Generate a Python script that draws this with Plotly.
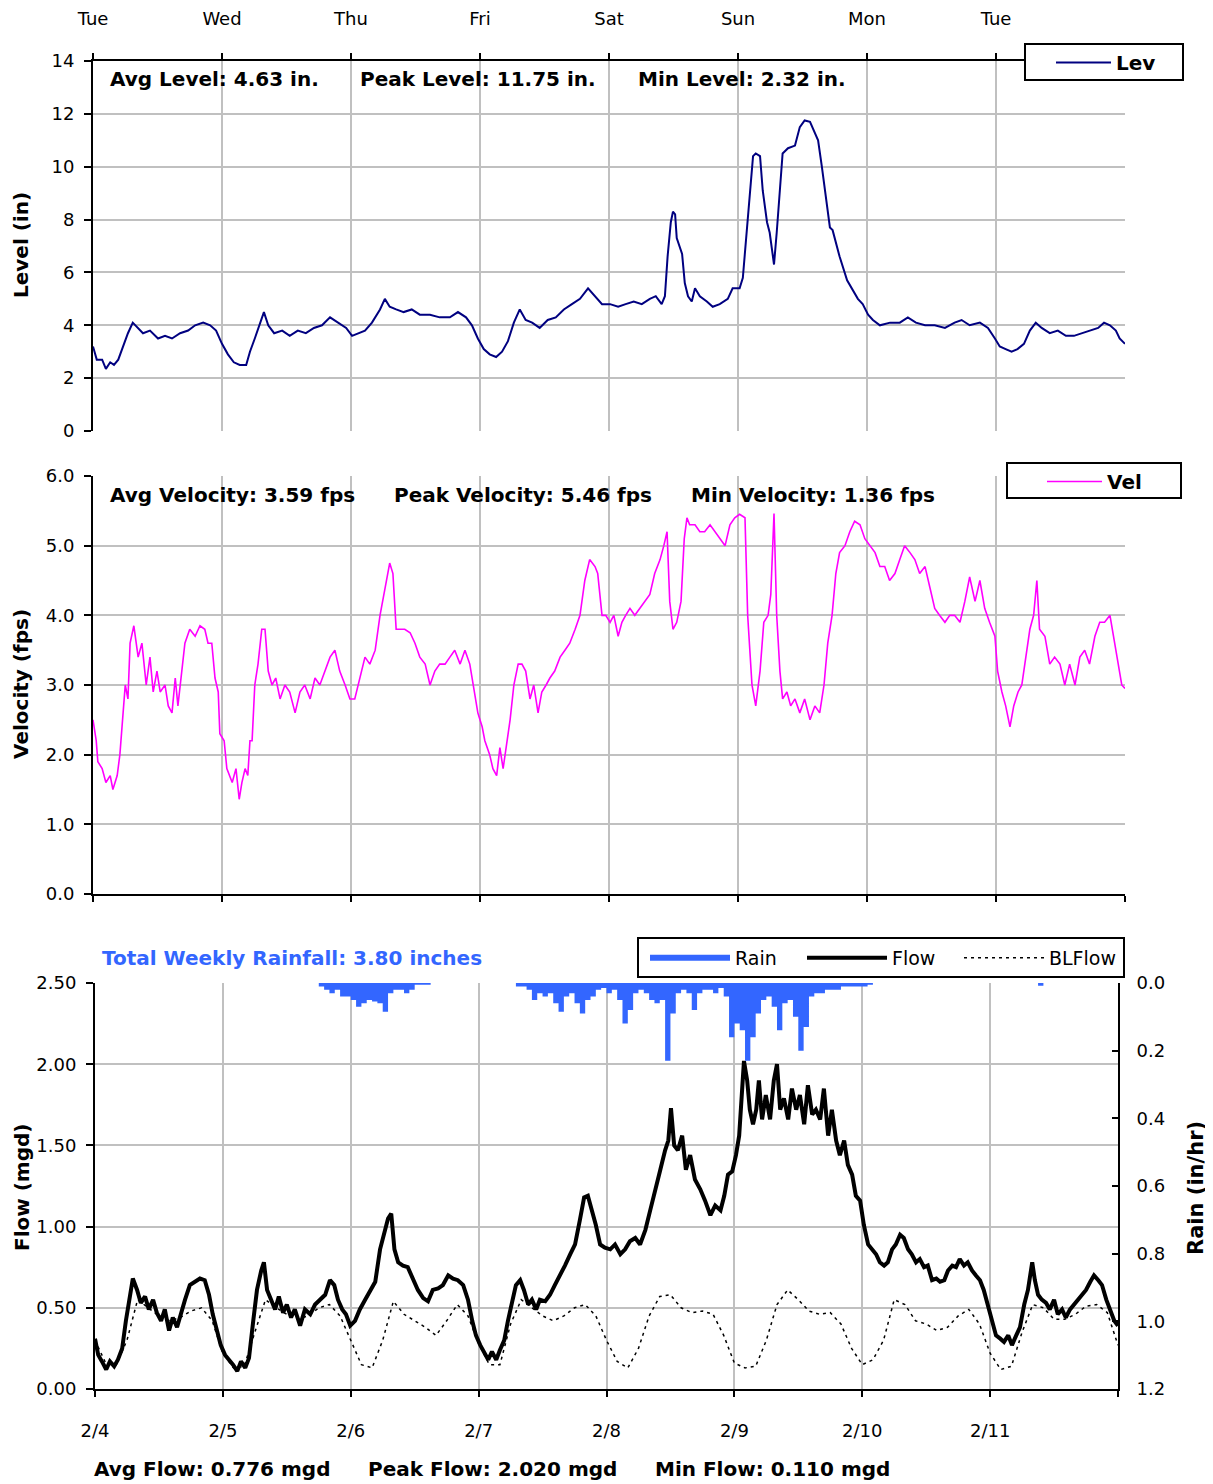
import plotly.graph_objects as go
from datetime import datetime, timedelta

# ---------------- data (hour offset from 2/4 00:00, value) ----------------
START = datetime(2025, 2, 4)

level_pts = [(0,3.2),(0.7,2.7),(1.7,2.7),(2.4,2.35),(3.2,2.6),(3.9,2.5),(4.7,2.7),(5.6,3.2),(6.5,3.7),(7.4,4.1),
    (8.4,3.9),(9.3,3.7),(10.6,3.8),(12.1,3.5),(13.4,3.6),(14.7,3.5),(16.2,3.7),(17.7,3.8),(19.0,4.0),(20.5,4.1),
    (21.8,4.0),(22.9,3.8),(24.0,3.3),(25.1,2.9),(26.2,2.6),(27.3,2.5),(28.5,2.5),(29.2,3.0),(30.1,3.5),(31.1,4.1),
    (31.8,4.5),(32.6,4.0),(33.7,3.7),(35.2,3.8),(36.6,3.6),(38.1,3.8),(39.6,3.7),(41.1,3.9),(42.6,4.0),(44.1,4.3),
    (45.6,4.1),(47.1,3.9),(48.2,3.6),(49.3,3.7),(50.6,3.8),(51.9,4.1),(53.4,4.6),(54.3,5.0),(55.2,4.7),(56.4,4.6),
    (57.8,4.5),(59.3,4.6),(60.8,4.4),(62.7,4.4),(64.5,4.3),(66.4,4.3),(67.9,4.5),(69.4,4.3),(70.5,4.0),(71.6,3.5),
    (72.7,3.1),(73.8,2.9),(75.0,2.8),(76.1,3.0),(77.2,3.4),(78.3,4.1),(79.4,4.6),(80.5,4.2),(81.7,4.1),(83.1,3.9),
    (84.6,4.2),(86.1,4.3),(87.6,4.6),(89.1,4.8),(90.6,5.0),(92.1,5.4),(93.4,5.1),(94.7,4.8),(96.2,4.8),(97.7,4.7),
    (99.1,4.8),(100.6,4.9),(102.1,4.8),(103.6,5.0),(104.7,5.1),(105.8,4.8),(106.4,5.1),(106.9,6.6),(107.5,7.9),(107.9,8.3),
    (108.3,8.2),(108.6,7.3),(109.6,6.7),(110.1,5.6),(110.7,5.1),(111.4,4.9),(112.0,5.4),(112.9,5.1),(114.2,4.9),(115.3,4.7),
    (116.6,4.8),(118.1,5.0),(119.0,5.4),(120.3,5.4),(120.9,5.8),(121.6,7.6),(122.2,9.1),(122.8,10.4),(123.3,10.5),(124.1,10.4),
    (124.6,9.1),(125.4,7.9),(125.9,7.5),(126.7,6.3),(127.2,7.5),(127.8,9.2),(128.3,10.5),(129.3,10.7),(130.6,10.8),(131.5,11.5),
    (132.4,11.75),(133.4,11.7),(134.3,11.3),(134.9,11.0),(135.6,10.0),(136.4,8.8),(137.1,7.7),(137.6,7.6),(138.9,6.6),(140.3,5.7),
    (141.4,5.3),(142.3,5.0),(143.2,4.8),(144.2,4.4),(145.1,4.2),(146.4,4.0),(148.3,4.1),(150.1,4.1),(151.6,4.3),(153.1,4.1),
    (154.8,4.0),(156.6,4.0),(158.5,3.9),(160.3,4.1),(161.6,4.2),(163.1,4.0),(165.0,4.1),(166.5,3.9),(167.8,3.5),(168.7,3.2),
    (169.8,3.1),(170.9,3.0),(172.0,3.1),(173.2,3.3),(174.3,3.8),(175.4,4.1),(176.5,3.9),(178.0,3.7),(179.5,3.8),(181.0,3.6),
    (182.5,3.6),(184.0,3.7),(185.5,3.8),(187.0,3.9),(188.1,4.1),(189.2,4.0),(190.3,3.8),(191.0,3.5),(192.0,3.3)]

vel_pts = [(0.0,2.5),(0.6,2.2),(0.9,1.9),(1.7,1.8),(2.4,1.6),(3.2,1.7),(3.7,1.5),(4.5,1.7),(5.0,2.0),(5.4,2.4),
    (6.0,3.0),(6.5,2.8),(6.9,3.6),(7.6,3.85),(8.4,3.4),(9.1,3.6),(9.9,3.0),(10.6,3.4),(11.2,2.9),(11.9,3.2),
    (12.5,2.9),(13.4,3.0),(14.0,2.7),(14.7,2.6),(15.3,3.1),(15.8,2.7),(16.6,3.3),(17.1,3.6),(18.0,3.8),(19.0,3.7),
    (19.9,3.85),(20.8,3.8),(21.4,3.6),(22.1,3.6),(22.7,3.1),(23.3,2.9),(23.6,2.3),(24.4,2.2),(24.9,1.8),(25.9,1.6),
    (26.6,1.8),(27.2,1.36),(27.7,1.6),(28.3,1.8),(28.8,1.7),(29.2,2.2),(29.6,2.2),(30.1,3.0),(30.7,3.3),(31.4,3.8),
    (32.0,3.8),(32.6,3.2),(33.3,3.0),(34.0,3.1),(34.8,2.8),(35.7,3.0),(36.6,2.9),(37.6,2.6),(38.5,2.9),(39.4,3.0),
    (40.4,2.8),(41.3,3.1),(42.2,3.0),(43.2,3.2),(44.1,3.4),(45.0,3.5),(45.9,3.2),(46.9,3.0),(47.8,2.8),(48.7,2.8),
    (49.7,3.1),(50.6,3.4),(51.5,3.3),(52.5,3.5),(53.4,4.0),(54.3,4.4),(55.2,4.75),(55.8,4.6),(56.4,3.8),(57.1,3.8),
    (58.0,3.8),(59.0,3.75),(59.9,3.6),(60.8,3.4),(61.8,3.3),(62.7,3.0),(63.6,3.2),(64.5,3.3),(65.5,3.3),(66.4,3.4),
    (67.3,3.5),(68.3,3.3),(69.2,3.5),(70.1,3.3),(71.1,2.8),(71.6,2.6),(72.4,2.4),(72.9,2.2),(73.8,2.0),(74.4,1.8),
    (75.1,1.7),(75.7,2.1),(76.3,1.8),(77.0,2.2),(77.6,2.5),(78.3,3.0),(79.1,3.3),(79.8,3.3),(80.5,3.2),(81.3,2.8),
    (82.0,3.0),(82.8,2.6),(83.5,2.9),(84.3,3.0),(85.0,3.1),(85.9,3.2),(86.9,3.4),(87.8,3.5),(88.7,3.6),(89.7,3.8),
    (90.6,4.0),(91.5,4.5),(92.4,4.8),(93.4,4.7),(93.9,4.6),(94.7,4.0),(95.4,4.0),(96.2,3.9),(96.9,4.0),(97.7,3.7),
    (98.4,3.9),(99.1,4.0),(99.9,4.1),(100.8,4.0),(101.7,4.1),(102.7,4.2),(103.6,4.3),(104.5,4.6),(105.5,4.8),(106.2,5.0),
    (106.8,5.2),(107.3,4.2),(107.9,3.8),(108.6,3.9),(109.4,4.2),(110.0,5.1),(110.5,5.4),(111.0,5.3),(112.0,5.3),(112.9,5.2),
    (113.8,5.2),(114.8,5.3),(115.7,5.2),(116.6,5.1),(117.6,5.0),(118.5,5.3),(119.4,5.4),(120.3,5.45),(121.3,5.4),(121.8,4.0),
    (122.6,3.0),(123.3,2.7),(124.1,3.2),(124.8,3.9),(125.6,4.0),(126.1,4.3),(126.7,5.46),(127.2,4.0),(127.8,3.2),(128.3,2.8),
    (129.1,2.9),(129.8,2.7),(130.6,2.8),(131.5,2.6),(132.4,2.8),(133.4,2.5),(134.3,2.7),(135.2,2.6),(136.0,3.0),(136.7,3.6),
    (137.5,4.0),(138.2,4.6),(138.9,4.9),(139.9,5.0),(140.8,5.2),(141.7,5.35),(142.7,5.3),(143.6,5.1),(144.5,5.0),(145.5,4.9),
    (146.4,4.7),(147.3,4.7),(148.2,4.5),(149.2,4.6),(150.1,4.8),(151.0,5.0),(152.0,4.9),(152.9,4.8),(153.8,4.6),(154.8,4.7),
    (155.7,4.4),(156.6,4.1),(157.5,4.0),(158.5,3.9),(159.4,4.0),(160.3,4.0),(161.3,3.9),(162.2,4.2),(163.1,4.55),(164.1,4.2),
    (165.0,4.5),(165.9,4.1),(166.8,3.9),(167.8,3.7),(168.3,3.2),(169.1,2.9),(169.8,2.7),(170.6,2.4),(171.3,2.7),(172.1,2.9),
    (172.8,3.0),(173.5,3.4),(174.3,3.8),(175.0,4.0),(175.6,4.5),(176.1,3.8),(177.1,3.7),(178.0,3.3),(178.9,3.4),(179.9,3.3),
    (180.8,3.0),(181.7,3.3),(182.7,3.0),(183.6,3.4),(184.5,3.5),(185.4,3.3),(186.4,3.7),(187.3,3.9),(188.2,3.9),(189.2,4.0),
    (190.1,3.6),(190.7,3.3),(191.4,3.0),(192.0,2.95)]

flow_pts = [(0,0.31),(0.6,0.21),(1.3,0.17),(2.1,0.12),(2.8,0.17),(3.6,0.14),(4.3,0.18),(5.1,0.25),(5.8,0.42),(6.4,0.55),
    (7.1,0.68),(7.9,0.61),(8.6,0.53),(9.4,0.57),(10.1,0.49),(10.9,0.55),(11.6,0.47),(12.4,0.42),(13.1,0.49),(13.9,0.36),
    (14.6,0.44),(15.4,0.38),(16.1,0.47),(16.9,0.55),(17.8,0.64),(18.8,0.66),(19.7,0.68),(20.6,0.67),(21.4,0.58),(22.1,0.46),
    (22.9,0.36),(23.6,0.27),(24.4,0.21),(25.2,0.18),(25.9,0.15),(26.7,0.11),(27.4,0.17),(28.2,0.13),(28.9,0.19),(29.7,0.42),
    (30.4,0.61),(31.2,0.73),(31.7,0.78),(32.3,0.61),(33.0,0.55),(33.8,0.49),(34.5,0.57),(35.3,0.47),(36.0,0.52),(36.8,0.44),
    (37.5,0.49),(38.5,0.39),(39.4,0.49),(40.4,0.46),(41.3,0.52),(42.2,0.55),(43.2,0.58),(44.1,0.67),(44.9,0.64),(45.6,0.55),
    (46.4,0.49),(47.1,0.46),(47.9,0.39),(48.8,0.42),(49.7,0.49),(50.7,0.55),(51.6,0.60),(52.6,0.66),(53.5,0.86),(54.2,0.95),
    (55.0,1.05),(55.6,1.08),(56.2,0.86),(56.9,0.78),(57.8,0.76),(58.7,0.75),(59.7,0.67),(60.6,0.61),(61.6,0.56),(62.5,0.54),
    (63.4,0.61),(64.4,0.62),(65.3,0.64),(66.3,0.70),(67.2,0.68),(68.1,0.67),(69.1,0.64),(70.0,0.55),(70.8,0.42),(71.5,0.33),
    (72.3,0.27),(73.0,0.23),(73.8,0.18),(74.5,0.23),(75.3,0.18),(76.0,0.24),(76.8,0.30),(77.5,0.42),(78.3,0.55),(79.0,0.64),
    (79.8,0.67),(80.5,0.61),(81.3,0.52),(82.0,0.55),(82.8,0.49),(83.5,0.55),(84.5,0.54),(85.4,0.58),(86.3,0.64),(87.3,0.70),
    (88.2,0.76),(89.2,0.83),(90.1,0.89),(91.0,1.04),(91.8,1.18),(92.5,1.19),(93.3,1.10),(94.0,1.01),(94.8,0.89),(95.7,0.87),
    (96.7,0.86),(97.6,0.89),(98.6,0.83),(99.5,0.86),(100.4,0.91),(101.4,0.93),(102.3,0.89),(103.3,0.98),(104.2,1.10),(105.1,1.23),
    (106.1,1.35),(107.0,1.47),(107.6,1.53),(108.1,1.73),(108.7,1.50),(109.4,1.47),(110.2,1.56),(110.9,1.35),(111.7,1.44),(112.6,1.29),
    (113.6,1.23),(114.5,1.16),(115.5,1.07),(116.4,1.13),(117.4,1.10),(118.1,1.19),(118.8,1.32),(119.6,1.34),(120.3,1.44),(120.9,1.56),
    (121.2,1.75),(121.8,2.02),(122.4,1.90),(122.9,1.72),(123.5,1.63),(124.1,1.72),(124.6,1.90),(125.2,1.66),(125.9,1.81),(126.7,1.66),
    (127.4,1.90),(128.0,2.00),(128.6,1.72),(129.3,1.79),(130.1,1.66),(130.8,1.85),(131.6,1.72),(132.3,1.81),(133.1,1.63),(133.8,1.87),
    (134.6,1.69),(135.3,1.72),(136.1,1.66),(136.8,1.85),(137.6,1.56),(138.3,1.72),(139.1,1.53),(139.8,1.44),(140.6,1.53),(141.3,1.38),
    (142.1,1.32),(142.8,1.19),(143.6,1.16),(144.3,1.01),(145.1,0.89),(145.8,0.86),(146.6,0.83),(147.3,0.78),(148.1,0.76),(148.8,0.78),
    (149.6,0.86),(150.3,0.89),(151.1,0.95),(151.8,0.93),(152.6,0.86),(153.3,0.83),(154.1,0.78),(154.8,0.80),(155.6,0.75),(156.3,0.76),
    (157.1,0.67),(157.9,0.68),(158.6,0.66),(159.4,0.67),(160.1,0.73),(160.9,0.76),(161.6,0.75),(162.3,0.80),(163.1,0.76),(163.8,0.78),
    (164.6,0.73),(165.3,0.70),(166.1,0.67),(166.8,0.61),(167.6,0.52),(168.4,0.42),(169.1,0.33),(169.9,0.31),(170.6,0.29),(171.4,0.33),
    (172.1,0.27),(172.9,0.33),(173.6,0.38),(174.4,0.52),(175.1,0.61),(175.9,0.78),(176.4,0.67),(177.0,0.58),(177.7,0.55),(178.5,0.53),
    (179.2,0.49),(180.0,0.55),(180.7,0.46),(181.5,0.49),(182.2,0.44),(183.0,0.49),(183.7,0.52),(184.5,0.55),(185.2,0.58),(186.0,0.61),
    (186.8,0.66),(187.5,0.70),(188.3,0.67),(189.0,0.64),(189.8,0.55),(190.5,0.49),(191.3,0.42),(192.0,0.39)]

blflow_pts = [(0,0.30),(2,0.16),(4,0.15),(6,0.30),(8,0.55),(10,0.50),(12,0.45),(14,0.42),(16,0.44),(18,0.48),(20,0.50),(22,0.42),
    (24,0.22),(26,0.13),(28,0.14),(30,0.35),(32,0.55),(34,0.50),(36,0.46),(38,0.43),(40,0.45),(42,0.50),(44,0.52),(46,0.45),
    (48,0.30),(50,0.15),(52,0.13),(54,0.30),(56,0.54),(58,0.46),(60,0.42),(62,0.38),(64,0.33),(66,0.42),(68,0.52),(70,0.45),
    (72,0.28),(74,0.15),(76,0.15),(78,0.40),(80,0.55),(82,0.50),(84,0.45),(86,0.42),(88,0.45),(90,0.50),(92,0.52),(94,0.45),
    (96,0.30),(98,0.17),(100,0.13),(102,0.25),(104,0.45),(106,0.57),(108,0.58),(110,0.50),(112,0.47),(114,0.48),(116,0.46),(118,0.33),
    (120,0.16),(122,0.13),(124,0.14),(126,0.30),(128,0.52),(130,0.61),(132,0.55),(134,0.48),(136,0.46),(138,0.47),(140,0.40),(142,0.25),
    (144,0.15),(146,0.18),(148,0.30),(150,0.55),(152,0.52),(154,0.42),(156,0.40),(158,0.36),(160,0.38),(162,0.45),(164,0.49),(166,0.40),
    (168,0.22),(170,0.12),(172,0.14),(174,0.35),(176,0.52),(178,0.50),(180,0.43),(182,0.43),(184,0.46),(186,0.51),(188,0.52),(190,0.47),
    (192,0.27)]

# hourly rainfall intensity (in/hr); hours not listed had no rain
rain_pts = [(42,0.01),(43,0.02),(44,0.03),(45,0.02),(46,0.04),(47,0.04),(48,0.05),(49,0.07),(50,0.06),(51,0.05),
    (52,0.055),(53,0.06),(54,0.085),(55,0.03),(56,0.02),(57,0.02),(58,0.03),(59,0.02),(60,0.005),(61,0.005),(62,0.005),
    (79,0.01),(80,0.01),(81,0.02),(82,0.05),(83,0.03),(84,0.04),(85,0.03),(86,0.06),(87,0.085),(88,0.04),
    (89,0.03),(90,0.06),(91,0.09),(92,0.05),(93,0.04),(94,0.02),(95,0.015),(96,0.03),(97,0.02),(98,0.05),
    (99,0.12),(100,0.08),(101,0.03),(102,0.02),(103,0.03),(104,0.05),(105,0.06),(106,0.05),(107,0.23),(108,0.09),
    (109,0.03),(110,0.02),(111,0.03),(112,0.08),(113,0.03),(114,0.02),(115,0.02),(116,0.03),(117,0.015),(118,0.04),
    (119,0.16),(120,0.12),(121,0.14),(122,0.23),(123,0.16),(124,0.09),(125,0.05),(126,0.04),(127,0.07),(128,0.14),
    (129,0.06),(130,0.05),(131,0.10),(132,0.20),(133,0.13),(134,0.04),(135,0.03),(136,0.03),(137,0.02),(138,0.02),
    (139,0.02),(140,0.01),(141,0.01),(142,0.01),(143,0.01),(144,0.01),(145,0.005),(177,0.008)]

day_hours = [0, 24, 48, 72, 96, 120, 144, 168, 192]
weekday_labels = ["Tue", "Wed", "Thu", "Fri", "Sat", "Sun", "Mon", "Tue", ""]
date_labels = ["2/4", "2/5", "2/6", "2/7", "2/8", "2/9", "2/10", "2/11", ""]

level_stats = ["Avg Level: 4.63 in.", "Peak Level: 11.75 in.", "Min Level: 2.32 in."]
vel_stats = ["Avg Velocity: 3.59 fps", "Peak Velocity: 5.46 fps", "Min Velocity: 1.36 fps"]
flow_stats = ["Avg Flow: 0.776 mgd", "Peak Flow: 2.020 mgd", "Min Flow: 0.110 mgd"]
rain_total_text = "Total Weekly Rainfall: 3.80 inches"

# ---------------- helpers ----------------
OFF = 8                      # default page margin of the html body
W, H = 1213 - OFF, 1484 - OFF
FONT = "DejaVu Sans"
GRID = "#C0C0C0"
RAIN_BLUE = "#3366FF"
TICK_SIZE = 18


def t(h):
    return START + timedelta(hours=h)


def xs(pts):
    return [t(p[0]) for p in pts]


def ys(pts):
    return [p[1] for p in pts]


def px(x):
    return (x - OFF) / W


def py(y):
    return 1 - (y - OFF) / H


# rain drawn as a step area: each hourly value holds for its hour, back to 0 after a dry gap
rain_x, rain_y = [], []
for i, (h, v) in enumerate(rain_pts):
    rain_x.append(t(h))
    rain_y.append(v)
    nxt = rain_pts[i + 1][0] if i + 1 < len(rain_pts) else None
    if nxt != h + 1:
        rain_x.append(t(h + 1))
        rain_y.append(0)

tickvals = [t(h) for h in day_hours]
xrange_ = [t(0), t(192)]

fig = go.Figure()

fig.add_trace(go.Scatter(x=xs(level_pts), y=ys(level_pts), name="Lev", mode="lines",
                         line=dict(color="#000080", width=2), xaxis="x", yaxis="y", legend="legend"))
fig.add_trace(go.Scatter(x=xs(vel_pts), y=ys(vel_pts), name="Vel", mode="lines",
                         line=dict(color="#FF00FF", width=1.6), xaxis="x2", yaxis="y2", legend="legend2"))
fig.add_trace(go.Scatter(x=rain_x, y=rain_y, name="Rain", mode="none", fill="tozeroy", fillcolor=RAIN_BLUE,
                         line=dict(shape="hv", width=0), xaxis="x3", yaxis="y4", legend="legend3"))
fig.add_trace(go.Scatter(x=xs(flow_pts), y=ys(flow_pts), name="Flow", mode="lines",
                         line=dict(color="black", width=4), xaxis="x3", yaxis="y3", legend="legend3"))
fig.add_trace(go.Scatter(x=xs(blflow_pts), y=ys(blflow_pts), name="BLFlow", mode="lines",
                         line=dict(color="black", width=1.5, dash="3px,4px"), xaxis="x3", yaxis="y3", legend="legend3"))

common_x = dict(type="date", range=xrange_, tickvals=tickvals, showgrid=True, gridcolor=GRID, gridwidth=2,
                showline=True, linecolor="black", linewidth=2, ticks="outside", ticklen=6, tickwidth=1.5,
                tickcolor="black", zeroline=False, automargin=False,
                tickfont=dict(size=TICK_SIZE, family=FONT, color="black"))
common_y = dict(showgrid=True, gridcolor=GRID, gridwidth=2, showline=True, linecolor="black", linewidth=2,
                ticks="outside", ticklen=7, tickwidth=1.5, tickcolor="black", zeroline=False, automargin=False,
                tickfont=dict(size=TICK_SIZE, family=FONT, color="black"), ticklabelstandoff=6)
# second set of x ticks pointing inward, so the day ticks cross the axis line
inner_x = dict(type="date", range=xrange_, tickvals=tickvals, showgrid=False, showline=False, zeroline=False,
               ticks="inside", ticklen=5, tickwidth=1.5, tickcolor="black", showticklabels=False, automargin=False)

legend_common = dict(xanchor="left", yanchor="top", bgcolor="rgba(0,0,0,0)", borderwidth=0)

fig.update_layout(
    width=W, height=H,
    margin=dict(l=0, r=0, t=0, b=0, pad=0, autoexpand=False),
    paper_bgcolor="white", plot_bgcolor="white",
    font=dict(family=FONT, color="black", size=TICK_SIZE),
    showlegend=True,
    xaxis=dict(common_x, domain=[px(93), px(1125)], anchor="y", side="top", ticktext=weekday_labels,
               ticklabelstandoff=21),
    yaxis=dict(common_y, domain=[py(431), py(61)], anchor="x", range=[0, 14], tick0=0, dtick=2),
    xaxis2=dict(common_x, domain=[px(93), px(1125)], anchor="y2", showticklabels=False),
    yaxis2=dict(common_y, domain=[py(894), py(476)], anchor="x2", range=[0, 6], tick0=0, dtick=1, tickformat=".1f"),
    xaxis3=dict(common_x, domain=[px(95), px(1118)], anchor="y3", ticktext=date_labels, ticklabelstandoff=18),
    yaxis3=dict(common_y, domain=[py(1389), py(983)], anchor="x3", range=[0, 2.5], tick0=0, dtick=0.5,
                tickformat=".2f"),
    yaxis4=dict(overlaying="y3", anchor="x3", side="right", range=[1.2, 0], tick0=0, dtick=0.2, tickformat=".1f",
                showgrid=False, showline=True, linecolor="black", linewidth=2, ticks="inside", ticklen=6,
                tickwidth=1.5, tickcolor="black", zeroline=False, ticklabelstandoff=13, automargin=False,
                tickfont=dict(size=TICK_SIZE, family=FONT, color="black")),
    xaxis4=dict(inner_x, overlaying="x", anchor="y", side="top"),
    xaxis5=dict(inner_x, overlaying="x3", anchor="y3", side="bottom"),
    legend=dict(legend_common, x=px(1051), y=py(43), itemwidth=55,
                font=dict(size=20, family=FONT, color="black", weight="bold")),
    legend2=dict(legend_common, x=px(1042), y=py(462), itemwidth=55,
                 font=dict(size=20, family=FONT, color="black", weight="bold")),
    legend3=dict(legend_common, x=px(645), y=py(939), orientation="h", itemwidth=80, entrywidth=62,
                 traceorder="normal", font=dict(size=19, family=FONT, color="black")),
)

# legend frames (white boxes with black border, drawn over the grid)
shapes = []
for (x0, y0, x1, y1) in [(1025, 44, 1183, 80), (1007, 463, 1181, 498), (638, 938, 1124, 977)]:
    shapes.append(dict(type="rect", xref="paper", yref="paper", x0=px(x0), x1=px(x1), y0=py(y1), y1=py(y0),
                       fillcolor="white", line=dict(color="black", width=2), layer="above"))
fig.update_layout(shapes=shapes)

annotations = []


def add_text(text, x, y, size=20, bold=True, color="black", angle=0, xanchor="left"):
    annotations.append(dict(text=f"<b>{text}</b>" if bold else text, x=px(x), y=py(y), xref="paper", yref="paper",
                            xanchor=xanchor, yanchor="middle", showarrow=False, textangle=angle,
                            font=dict(size=size, family=FONT, color=color)))


for txt, x0 in zip(level_stats, [108, 358, 636]):
    add_text(txt, x0, 79)
for txt, x0 in zip(vel_stats, [108, 392, 689]):
    add_text(txt, x0, 495)
for txt, x0 in zip(flow_stats, [92, 366, 653]):
    add_text(txt, x0, 1469)
add_text(rain_total_text, 100, 958, color=RAIN_BLUE)

add_text("Level (in)", 21, 245, size=20, angle=-90, xanchor="center")
add_text("Velocity (fps)", 21, 684, size=20, angle=-90, xanchor="center")
add_text("Flow (mgd)", 22, 1188, size=20, angle=-90, xanchor="center")
add_text("Rain (in/hr)", 1196, 1188, size=21, angle=-90, xanchor="center")

fig.update_layout(annotations=annotations)

fig.write_html("out.html")
